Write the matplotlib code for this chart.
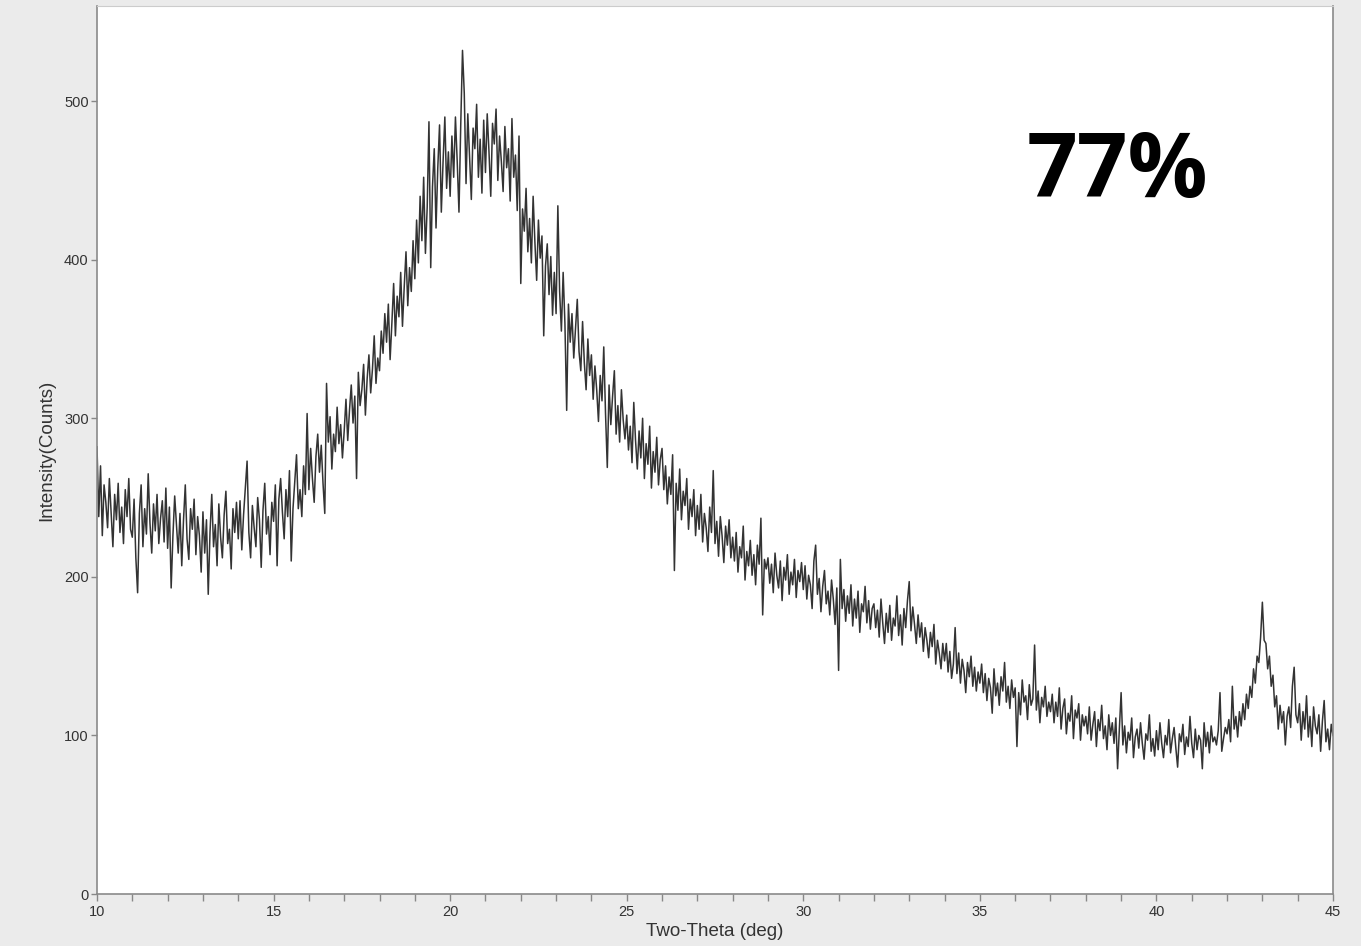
import numpy as np
import matplotlib.pyplot as plt

# XRD scan, 10-45 deg two-theta, step 0.05 deg (one row per degree)
intensity = [
    282, 238, 270, 226, 258, 247, 231, 262, 240, 219, 252, 236, 259, 228, 244, 221, 255, 238, 262, 230,  # 10
    225, 249, 212, 190, 240, 258, 219, 243, 227, 265, 234, 215, 246, 229, 252, 221, 237, 248, 222, 256,  # 11
    218, 244, 193, 226, 251, 233, 215, 240, 207, 236, 258, 224, 211, 243, 230, 249, 214, 238, 226, 203,  # 12
    241, 215, 236, 189, 228, 252, 219, 233, 207, 246, 225, 212, 239, 254, 221, 230, 205, 243, 228, 247,  # 13
    224, 248, 217, 239, 256, 273, 228, 212, 245, 231, 219, 250, 236, 206, 242, 259, 227, 238, 214, 247,  # 14
    235, 258, 207, 249, 262, 241, 224, 255, 238, 267, 210, 243, 260, 277, 243, 255, 238, 270, 252, 303,  # 15
    255, 281, 262, 247, 276, 290, 266, 283, 259, 240, 322, 285, 301, 268, 290, 279, 307, 284, 296, 275,  # 16
    292, 312, 286, 305, 321, 297, 314, 262, 329, 308, 318, 334, 302, 325, 340, 316, 331, 352, 322, 338,  # 17
    330, 355, 341, 366, 348, 372, 337, 360, 385, 352, 377, 364, 392, 358, 383, 405, 371, 395, 380, 412,  # 18
    388, 425, 398, 440, 412, 452, 404, 433, 487, 395, 446, 470, 420, 458, 485, 430, 462, 490, 445, 468,  # 19
    440, 478, 452, 490, 462, 430, 485, 532, 505, 448, 492, 465, 438, 483, 470, 498, 452, 476, 442, 488,  # 20
    455, 492, 468, 440, 486, 473, 495, 450, 478, 462, 443, 484, 458, 470, 437, 489, 452, 466, 431, 478,  # 21
    385, 432, 418, 445, 405, 426, 398, 440, 411, 387, 425, 401, 415, 352, 396, 410, 378, 402, 365, 392,  # 22
    366, 434, 380, 355, 392, 360, 305, 372, 348, 366, 338, 357, 375, 342, 330, 361, 335, 318, 350, 327,  # 23
    340, 312, 333, 318, 298, 327, 311, 345, 303, 269, 321, 296, 314, 330, 290, 308, 285, 318, 299, 287,  # 24
    302, 280, 295, 272, 310, 286, 268, 292, 275, 300, 262, 284, 271, 295, 256, 279, 266, 288, 258, 274,  # 25
    281, 255, 270, 246, 263, 252, 277, 204, 259, 242, 268, 236, 254, 245, 262, 230, 249, 238, 255, 226,  # 26
    245, 230, 252, 222, 240, 231, 216, 244, 228, 267, 221, 235, 213, 238, 226, 209, 232, 220, 236, 212,  # 27
    225, 210, 228, 203, 219, 212, 232, 198, 216, 207, 223, 201, 214, 195, 220, 208, 237, 176, 211, 205,  # 28
    212, 196, 208, 190, 215, 201, 193, 210, 185, 206, 198, 214, 189, 203, 195, 211, 187, 204, 197, 209,  # 29
    192, 207, 186, 201, 195, 180, 210, 220, 189, 199, 178, 194, 204, 183, 191, 176, 198, 186, 170, 193,  # 30
    141, 211, 180, 192, 172, 188, 177, 195, 169, 186, 174, 191, 165, 183, 178, 194, 171, 185, 167, 180,  # 31
    183, 168, 179, 162, 186, 171, 158, 177, 165, 182, 160, 174, 169, 188, 163, 176, 157, 180, 168, 185,  # 32
    197, 166, 181, 170, 158, 176, 162, 171, 153, 168, 160, 149, 165, 156, 170, 145, 160, 152, 142, 158,  # 33
    147, 158, 140, 153, 136, 145, 168, 139, 152, 133, 148, 141, 127, 146, 137, 150, 131, 143, 128, 140,  # 34
    133, 145, 127, 139, 122, 136, 130, 114, 142, 125, 133, 119, 137, 128, 146, 121, 131, 117, 135, 124,  # 35
    130, 93, 127, 113, 135, 121, 125, 110, 132, 119, 123, 157, 116, 128, 108, 124, 118, 131, 112, 121,   # 36
    115, 126, 108, 121, 112, 130, 104, 117, 123, 101, 114, 109, 125, 98, 116, 111, 120, 97, 113, 106,    # 37
    112, 101, 118, 97, 107, 115, 93, 110, 103, 119, 98, 106, 91, 113, 100, 108, 95, 111, 79, 104,        # 38
    127, 94, 106, 89, 102, 97, 111, 86, 99, 104, 92, 108, 95, 85, 101, 97, 113, 90, 98, 87,              # 39
    103, 91, 108, 95, 86, 100, 94, 110, 89, 98, 105, 92, 80, 101, 96, 107, 88, 99, 93, 112,              # 40
    95, 86, 104, 91, 100, 97, 79, 108, 93, 102, 89, 106, 96, 99, 94, 103, 127, 90, 98, 105,              # 41
    101, 110, 96, 131, 104, 112, 99, 115, 106, 120, 110, 126, 117, 131, 124, 142, 133, 150, 146, 162,    # 42
    184, 160, 158, 142, 150, 131, 138, 118, 125, 104, 119, 108, 115, 94, 112, 118, 105, 131, 143, 113,   # 43
    108, 120, 97, 115, 104, 125, 99, 112, 93, 118, 106, 101, 113, 90, 109, 122, 96, 104, 91, 107,        # 44
    100,
]
two_theta = np.linspace(10, 45, len(intensity))

x_ticks = [10, 15, 20, 25, 30, 35, 40, 45]
y_ticks = [0, 100, 200, 300, 400, 500]
label = '77%'

plt.rcParams['font.family'] = ['Liberation Sans', 'DejaVu Sans']

fig = plt.figure(figsize=(13.61, 9.46), dpi=100)
fig.patch.set_facecolor('#ebebeb')
ax = fig.add_axes([97 / 1361, 52 / 946, 1236 / 1361, 888 / 946])
ax.set_facecolor('white')

ax.plot(two_theta, intensity, color='#333333', linewidth=1.1)

ax.set_xlim(10, 45)
ax.set_ylim(0, 560)
ax.set_xticks(x_ticks)
ax.set_xticks(np.arange(10, 46, 1), minor=True)
ax.set_yticks(y_ticks)
ax.tick_params(axis='both', which='both', direction='out', length=4, width=1,
               color='#888888', labelsize=10.5, labelcolor='#333333', pad=2)
ax.tick_params(axis='x', which='both', length=5, pad=3)

for side in ['left', 'bottom', 'right']:
    ax.spines[side].set_color('#8a8a8a')
    ax.spines[side].set_linewidth(1.2)
ax.spines['top'].set_color('#cccccc')

ax.set_xlabel('Two-Theta (deg)', fontsize=13.5, color='#333333', labelpad=3)
ax.set_ylabel('Intensity(Counts)', fontsize=13.5, color='#333333', labelpad=6)

fig.text(1117 / 1361, 1 - 197 / 946, label, fontsize=64, fontweight='bold',
         family=['Open Sans', 'DejaVu Sans'], ha='center', va='baseline', color='black')

fig.savefig('out.png', dpi=100, facecolor=fig.get_facecolor())
